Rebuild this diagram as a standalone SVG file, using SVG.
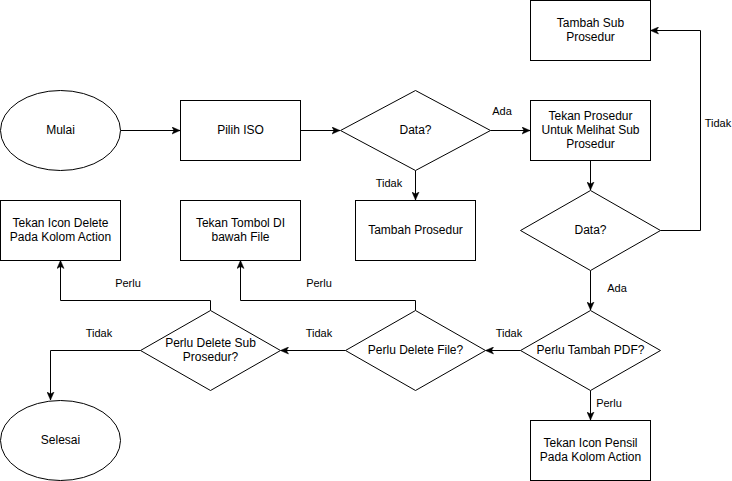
<svg xmlns="http://www.w3.org/2000/svg" width="732" height="481" viewBox="0 0 732 481">
<defs>
<style>
.n{fill:#ffffff;stroke:#000000;stroke-width:1}
.t{font-family:"Liberation Sans",Arial,Helvetica,sans-serif;font-size:12px;fill:#000000;text-anchor:middle;dominant-baseline:central}
.l{font-family:"Liberation Sans",Arial,Helvetica,sans-serif;font-size:11px;fill:#000000;text-anchor:middle;dominant-baseline:central}
.e{fill:none;stroke:#000000;stroke-width:1;marker-end:url(#a)}
</style>
<marker id="a" viewBox="0 0 8 8" refX="8" refY="4" markerWidth="8" markerHeight="8" markerUnits="userSpaceOnUse" orient="auto">
<path d="M0,0.5 L8,4 L0,7.5 L2,4 Z" fill="#000000" stroke="#000000" stroke-width="0.5"/>
</marker>
</defs>
<rect width="732" height="481" fill="#ffffff"/>
<g id="connectors">
<path class="e" d="M120.5,130.5 H180"/>
<path class="e" d="M300.5,130.5 H340"/>
<path class="e" d="M490.5,130.5 H530"/>
<path class="e" d="M415.5,170.5 V200"/>
<path class="e" d="M590.5,160.5 V190"/>
<path class="e" d="M660.5,230.5 H700.5 V30.5 H650.5"/>
<path class="e" d="M590.5,270.5 V310"/>
<path class="e" d="M590.5,390.5 V420"/>
<path class="e" d="M520.5,350.5 H485.5"/>
<path class="e" d="M415.5,310.5 V300.5 H240.5 V260.5"/>
<path class="e" d="M345.5,350.5 H280.5"/>
<path class="e" d="M210.5,310.5 V300.5 H60.5 V260.5"/>
<path class="e" d="M140.5,350.5 H50.5 V400"/>
</g>
<g id="labels">
<text class="l" x="502" y="111">Ada</text>
<text class="l" x="389" y="183">Tidak</text>
<text class="l" x="718" y="123">Tidak</text>
<text class="l" x="617" y="288">Ada</text>
<text class="l" x="609" y="403">Perlu</text>
<text class="l" x="509" y="333">Tidak</text>
<text class="l" x="319" y="333">Tidak</text>
<text class="l" x="99" y="333">Tidak</text>
<text class="l" x="128" y="283">Perlu</text>
<text class="l" x="319" y="283">Perlu</text>
</g>
<g id="mulai">
<ellipse class="n" cx="60.5" cy="130.5" rx="60" ry="40"/>
<text class="t" x="60.5" y="130">Mulai</text>
</g>
<g id="pilih-iso">
<rect class="n" x="180.5" y="100.5" width="120" height="60"/>
<text class="t" x="240.5" y="130">Pilih ISO</text>
</g>
<g id="data1">
<path class="n" d="M415.5,90.5 L490.5,130.5 L415.5,170.5 L340.5,130.5 Z"/>
<text class="t" x="415.5" y="130">Data?</text>
</g>
<g id="tambah-prosedur">
<rect class="n" x="355.5" y="200.5" width="120" height="60"/>
<text class="t" x="415.5" y="230">Tambah Prosedur</text>
</g>
<g id="tekan-prosedur">
<rect class="n" x="530.5" y="100.5" width="120" height="60"/>
<text class="t" x="590.5" y="116">Tekan Prosedur</text>
<text class="t" x="590.5" y="130">Untuk Melihat Sub</text>
<text class="t" x="590.5" y="144">Prosedur</text>
</g>
<g id="tambah-sub">
<rect class="n" x="530.5" y="0.5" width="120" height="60"/>
<text class="t" x="590.5" y="23">Tambah Sub</text>
<text class="t" x="590.5" y="37">Prosedur</text>
</g>
<g id="data2">
<path class="n" d="M590.5,190.5 L660.5,230.5 L590.5,270.5 L520.5,230.5 Z"/>
<text class="t" x="590.5" y="230">Data?</text>
</g>
<g id="perlu-pdf">
<path class="n" d="M590.5,310.5 L660.5,350.5 L590.5,390.5 L520.5,350.5 Z"/>
<text class="t" x="590.5" y="350">Perlu Tambah PDF?</text>
</g>
<g id="tekan-pensil">
<rect class="n" x="530.5" y="420.5" width="120" height="60"/>
<text class="t" x="590.5" y="443">Tekan Icon Pensil</text>
<text class="t" x="590.5" y="457">Pada Kolom Action</text>
</g>
<g id="perlu-delete-file">
<path class="n" d="M415.5,310.5 L485.5,350.5 L415.5,390.5 L345.5,350.5 Z"/>
<text class="t" x="415.5" y="350">Perlu Delete File?</text>
</g>
<g id="tekan-tombol">
<rect class="n" x="180.5" y="200.5" width="120" height="60"/>
<text class="t" x="240.5" y="223">Tekan Tombol DI</text>
<text class="t" x="240.5" y="237">bawah File</text>
</g>
<g id="perlu-delete-sub">
<path class="n" d="M210.5,310.5 L280.5,350.5 L210.5,390.5 L140.5,350.5 Z"/>
<text class="t" x="210.5" y="343">Perlu Delete Sub</text>
<text class="t" x="210.5" y="357">Prosedur?</text>
</g>
<g id="tekan-icon-delete">
<rect class="n" x="0.5" y="200.5" width="120" height="60"/>
<text class="t" x="60.5" y="223">Tekan Icon Delete</text>
<text class="t" x="60.5" y="237">Pada Kolom Action</text>
</g>
<g id="selesai">
<ellipse class="n" cx="60.5" cy="440.5" rx="60" ry="40"/>
<text class="t" x="60.5" y="440">Selesai</text>
</g>
</svg>
